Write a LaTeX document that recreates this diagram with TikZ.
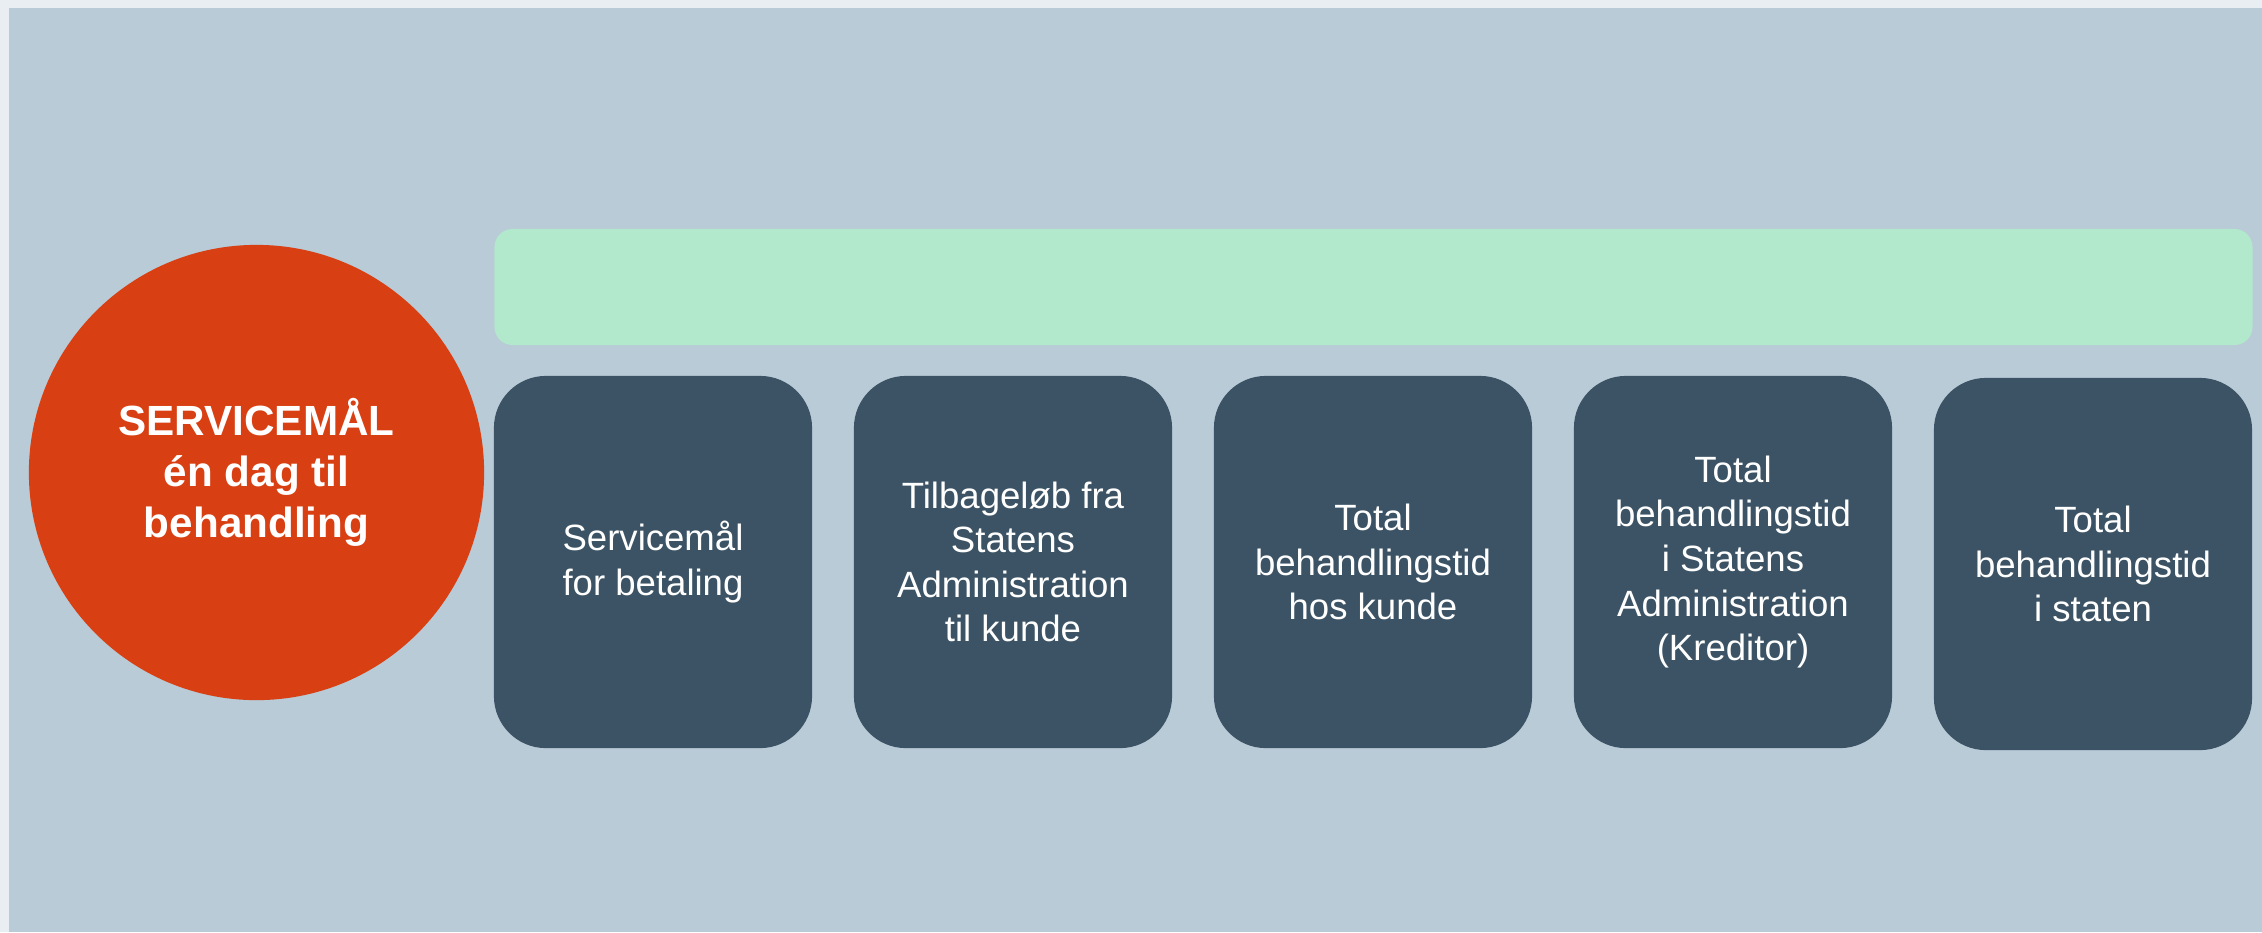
\documentclass[tikz,border=0pt]{standalone}
\usepackage{fontspec}
\setmainfont{Liberation Sans}
\begin{document}
\begin{tikzpicture}[x=0.01cm,y=-0.01cm,
  panel/.style={fill=panelbg,draw=none},
  goal/.style={circle,fill=goalred,draw=none,inner sep=0pt,minimum size=4.55cm,
    text=white,align=center,font=\fontsize{12}{14.5}\selectfont\bfseries},
  bar/.style={rectangle,rounded corners=0.18cm,fill=barmint,draw=none,inner sep=0pt,
    minimum width=17.57cm,minimum height=1.16cm},
  stage/.style={rectangle,rounded corners=0.52cm,fill=stageslate,draw=none,inner sep=0pt,
    minimum width=3.18cm,minimum height=3.72cm,text=white,align=center,
    font=\fontsize{10.4}{12.66}\selectfont}]
\definecolor{outerbg}{HTML}{E8EEF1}
\definecolor{panelbg}{HTML}{B9CBD7}
\definecolor{goalred}{HTML}{D84013}
\definecolor{barmint}{HTML}{B2E8CB}
\definecolor{stageslate}{HTML}{3B5364}
% page and inner panel
\fill[outerbg] (0,0) rectangle (2262,932);
\useasboundingbox (0,0) rectangle (2262,932);
\fill[panel] (9,8) rectangle (2262,932);
% central goal
\node[goal] (goal) at (256.5,472.5) {SERVICEMÅL\\én dag til\\behandling};
% header bar
\node[bar] (bar) at (1373.5,287) {};
% the five stages
\node[stage] (s1) at (653,562) {Servicemål\\for betaling};
\node[stage] (s2) at (1013,562) {Tilbageløb fra\\Statens\\Administration\\til kunde};
\node[stage] (s3) at (1373,562) {Total\\behandlingstid\\hos kunde};
\node[stage] (s4) at (1733,562) {Total\\behandlingstid\\i Statens\\Administration\\(Kreditor)};
\node[stage] (s5) at (2093,564) {Total\\behandlingstid\\i staten};
\end{tikzpicture}
\end{document}
